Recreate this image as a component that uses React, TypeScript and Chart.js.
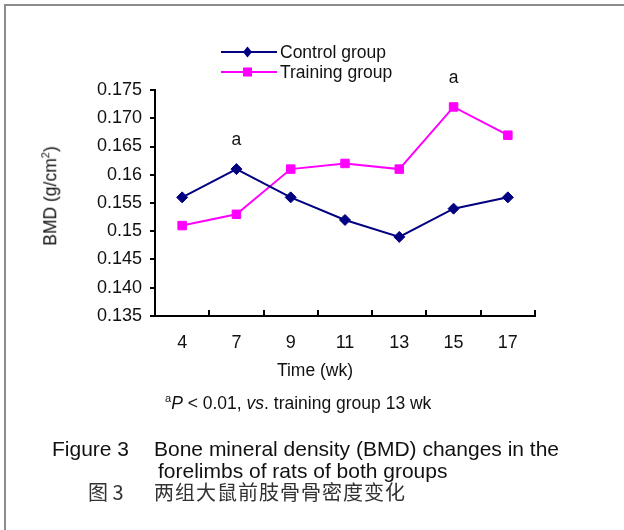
import React, { useEffect, useRef } from 'react';
import { Chart, registerables } from 'chart.js';

Chart.register(...registerables);

// ---- data ----
const weeks = ['4', '7', '9', '11', '13', '15', '17'];
const controlBMD = [0.156, 0.161, 0.156, 0.152, 0.149, 0.154, 0.156];
const trainingBMD = [0.151, 0.153, 0.161, 0.162, 0.161, 0.172, 0.167];
const yTickLabels = ['0.135', '0.140', '0.145', '0.15', '0.155', '0.16', '0.165', '0.170', '0.175'];
const yMin = 0.135;
const yMax = 0.175;
const yStep = 0.005;
const seriesNames = ['Control group', 'Training group'];
const seriesColors = ['#000080', '#FF00FF'];
const seriesMarkers = ['rectRot', 'rect'];
const annotationMarks = [
  { series: 0, index: 1, text: 'a' },
  { series: 1, index: 5, text: 'a' },
];
const seriesValues = [controlBMD, trainingBMD];

const FONT = '"Liberation Sans", Arial, Helvetica, sans-serif';

const overlayPlugin = {
  id: 'overlay',
  afterDraw(chart: any) {
    const { ctx, chartArea } = chart;
    const x = chart.scales.x;
    const y = chart.scales.y;
    ctx.save();
    ctx.strokeStyle = '#000';
    ctx.lineWidth = 2;
    for (let i = 0; i < weeks.length; i++) {
      const px = Math.round(x.getPixelForValue(i + 0.5));
      ctx.beginPath();
      ctx.moveTo(px, chartArea.bottom);
      ctx.lineTo(px, chartArea.bottom - 6);
      ctx.stroke();
    }
    ctx.font = `17.5px ${FONT}`;
    ctx.fillStyle = '#111';
    ctx.textAlign = 'center';
    ctx.textBaseline = 'alphabetic';
    annotationMarks.forEach((m) => {
      const v = seriesValues[m.series][m.index];
      ctx.fillText(m.text, x.getPixelForValue(m.index), y.getPixelForValue(v) - 24);
    });
    ctx.restore();
  },
};

function LegendSymbol({ color, marker }: { color: string; marker: string }) {
  return (
    <svg width={56} height={14} style={{ display: 'block' }}>
      <line x1={0} y1={7} x2={56} y2={7} stroke={color} strokeWidth={2} />
      {marker === 'rect' ? (
        <rect x={22} y={2.5} width={9} height={9} fill={color} />
      ) : (
        <polygon points="26.5,1.5 31,7 26.5,12.5 22,7" fill={color} />
      )}
    </svg>
  );
}

export default function App() {
  const canvasRef = useRef<HTMLCanvasElement | null>(null);

  useEffect(() => {
    const canvas = canvasRef.current;
    if (!canvas) return;
    const chart = new Chart(canvas, {
      type: 'line',
      data: {
        labels: weeks,
        datasets: seriesNames.map((name, i) => ({
          label: name,
          data: seriesValues[i],
          borderColor: seriesColors[i],
          backgroundColor: seriesColors[i],
          borderWidth: 2,
          pointStyle: seriesMarkers[i] as any,
          pointRadius: i === 0 ? 5.5 : 6,
          pointBorderWidth: 1,
          pointBorderColor: seriesColors[i],
          pointBackgroundColor: seriesColors[i],
          tension: 0,
          fill: false,
        })),
      },
      options: {
        animation: false,
        responsive: false,
        maintainAspectRatio: false,
        layout: { padding: { left: 0, right: 89, top: 90, bottom: 0 } },
        plugins: {
          legend: { display: false },
          tooltip: { enabled: false },
        },
        scales: {
          x: {
            type: 'category',
            offset: true,
            grid: { display: false, drawTicks: false, offset: true },
            border: { display: true, color: '#000', width: 2 },
            ticks: {
              padding: 16,
              color: '#111',
              font: { family: FONT, size: 18 },
              maxRotation: 0,
              autoSkip: false,
            },
            afterFit: (s: any) => {
              s.height = 214;
            },
          },
          y: {
            min: yMin,
            max: yMax,
            grid: {
              display: true,
              drawOnChartArea: false,
              drawTicks: true,
              tickLength: 5,
              color: '#000',
              lineWidth: 2,
            },
            border: { display: true, color: '#000', width: 2 },
            ticks: {
              stepSize: yStep,
              padding: 8,
              color: '#111',
              font: { family: FONT, size: 18 },
              callback: (_v: any, idx: number) => yTickLabels[idx],
            },
            afterFit: (s: any) => {
              s.width = 155;
            },
          },
        },
      },
      plugins: [overlayPlugin],
    });
    return () => chart.destroy();
  }, []);

  const textStyle: React.CSSProperties = {
    position: 'absolute',
    fontFamily: FONT,
    color: '#111',
    whiteSpace: 'nowrap',
    lineHeight: 1,
  };

  return (
    <div
      style={{
        position: 'fixed',
        left: 0,
        top: 0,
        width: 624,
        height: 530,
        background: '#fff',
        overflow: 'hidden',
      }}
    >
      <div
        style={{
          position: 'absolute',
          left: 4,
          top: 4,
          width: 700,
          height: 700,
          borderTop: '2px solid #8c8c8c',
          borderLeft: '2px solid #8c8c8c',
        }}
      />
      <canvas
        ref={canvasRef}
        width={624}
        height={530}
        style={{ position: 'absolute', left: 0, top: 0, width: 624, height: 530 }}
      />
      {/* legend */}
      {seriesNames.map((name, i) => (
        <div
          key={name}
          style={{
            position: 'absolute',
            left: 221,
            top: 52 + i * 20 - 10,
            height: 20,
            display: 'flex',
            alignItems: 'center',
          }}
        >
          <LegendSymbol color={seriesColors[i]} marker={seriesMarkers[i]} />
          <span style={{ fontFamily: FONT, fontSize: 17.5, color: '#111', marginLeft: 3, whiteSpace: 'nowrap' }}>
            {name}
          </span>
        </div>
      ))}
      {/* y axis title */}
      <div
        style={{
          ...textStyle,
          left: 51,
          top: 196,
          fontSize: 17.5,
          transform: 'translate(-50%, -50%) rotate(-90deg)',
        }}
      >
        BMD (g/cm
        <span style={{ fontSize: 11, position: 'relative', top: -7 }}>2</span>)
      </div>
      {/* x axis title */}
      <div style={{ ...textStyle, left: 315, top: 371, fontSize: 17.5, transform: 'translate(-50%, -50%)' }}>
        Time (wk)
      </div>
      {/* footnote */}
      <div style={{ ...textStyle, left: 165, top: 404, fontSize: 17.5, transform: 'translateY(-50%)' }}>
        <span style={{ fontSize: 11, position: 'relative', top: -7 }}>a</span>
        <i>P</i> &lt; 0.01, <i>vs</i>. training group 13 wk
      </div>
      {/* captions */}
      <div style={{ ...textStyle, left: 52, top: 448, fontSize: 21, transform: 'translateY(-50%)' }}>Figure 3</div>
      <div style={{ ...textStyle, left: 154, top: 448, fontSize: 21, transform: 'translateY(-50%)' }}>
        Bone mineral density (BMD) changes in the
      </div>
      <div style={{ ...textStyle, left: 158, top: 470, fontSize: 21, transform: 'translateY(-50%)' }}>
        forelimbs of rats of both groups
      </div>
      <div
        style={{
          ...textStyle,
          left: 88,
          top: 492,
          fontSize: 20,
          fontFamily: '"Noto Sans CJK SC", sans-serif',
          color: '#333',
          transform: 'translateY(-50%)',
        }}
      >
        图 3
      </div>
      <div
        style={{
          ...textStyle,
          left: 154,
          top: 492,
          fontSize: 20,
          letterSpacing: 1,
          fontFamily: '"Noto Sans CJK SC", sans-serif',
          color: '#333',
          transform: 'translateY(-50%)',
        }}
      >
        两组大鼠前肢骨骨密度变化
      </div>
    </div>
  );
}
